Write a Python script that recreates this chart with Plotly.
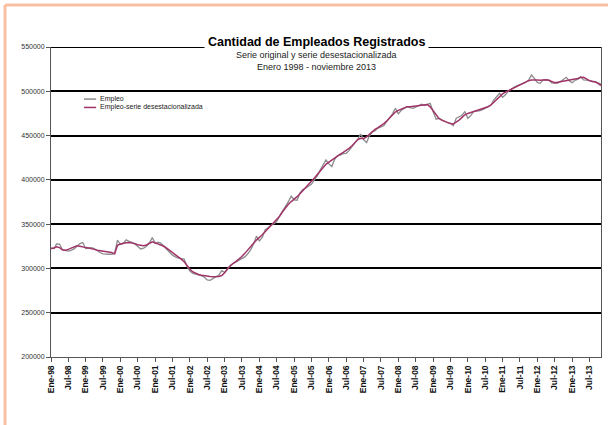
import pandas as pd
import plotly.graph_objects as go

# meses: enero 1998 - noviembre 2013
meses = pd.date_range("1998-01-01", periods=191, freq="MS")

# serie original (Empleo)
empleo = [
    322800, 322500, 327800, 327500, 321000, 319800, 319500, 320500, 322000, 325000, 328000, 329200,
    322500, 323000, 323500, 322500, 320000, 318000, 316500, 316000, 316000, 316000, 317000, 332000,
    327000, 328500, 332200, 330500, 329500, 327500, 324500, 322000, 323000, 325000, 329000, 334800,
    328500, 329500, 328500, 325000, 321500, 319000, 315000, 313000, 311500, 311000, 310500, 302500,
    297000, 294500, 293800, 293000, 291800, 290000, 287000, 286500, 288500, 290500, 292500, 297500,
    295500, 299000, 303500, 305500, 307500, 309000, 311500, 313000, 316500, 321000, 327500, 336500,
    331000, 335000, 343500, 346500, 348500, 350500, 353000, 359500, 365000, 369000, 375500, 381500,
    377500, 377000, 385000, 389000, 390500, 393000, 395000, 400000, 404500, 411000, 416500, 422500,
    418000, 415000, 423000, 427500, 428000, 429500, 430000, 433000, 437500, 441500, 446000, 451800,
    445500, 442000, 449500, 454000, 455500, 458500, 460000, 461000, 466000, 470000, 474500, 480800,
    474500, 478500, 480500, 482700, 481500, 480800, 482000, 483500, 485500, 484000, 485500, 486400,
    477000, 468500, 469500, 468000, 465700, 464500, 463800, 461200, 469500, 471000, 473000, 477000,
    469500, 472500, 477000, 477500, 477800, 479000, 480800, 482500, 484500, 490200, 493500, 497700,
    493200, 496000, 500000, 502500, 504500, 506000, 507100, 508500, 510000, 512500, 518400, 514600,
    510000, 509000, 512800, 512500, 512800, 509500, 509000, 509000, 511000, 513000, 515800, 512000,
    509700, 512500, 513500, 516500, 512800, 512500, 512000, 511500, 511000, 509500, 508200,
]

# serie desestacionalizada
empleo_desest = [
    322500, 323000, 324500, 323500, 321000, 320500, 321500, 323000, 324500, 325500, 325000, 324000,
    323500, 323000, 322500, 321500, 320500, 320000, 319800, 319500, 319000, 318000, 316500, 326000,
    327500, 328500, 329000, 329200, 328800, 328000, 326800, 325800, 325500, 326500, 328200, 330000,
    328800, 327500, 326800, 325000, 322800, 320500, 318000, 315500, 313000, 310500, 307500, 303000,
    299000, 296000, 294500, 293200, 292200, 291500, 291000, 290800, 290700, 290800, 291000, 292000,
    295000, 300000, 303000, 305800, 308000, 310500, 313500, 317000, 320500, 324500, 328500, 332000,
    334500, 338000, 341500, 345000, 348000, 351000, 354500, 359000, 364000, 368500, 372500, 375500,
    378000, 381000, 384000, 387500, 390500, 394000, 398000, 402000, 406000, 410000, 414000, 417500,
    420000, 422500, 424500, 427000, 429000, 431000, 433000, 435500, 438500, 442000, 445500, 447000,
    446500, 448500, 451500, 454500, 457000, 459000, 461000, 463500, 466500, 470000, 473500, 476500,
    478500, 480000, 481500, 482500, 482500, 483000, 483500, 484000, 484500, 484500, 485000, 482500,
    477500, 473000, 469500, 467500, 466000, 464500, 463500, 463000, 465000, 467500, 470500, 473500,
    475000, 476000, 477000, 478000, 479000, 480500, 481000, 482500, 484500, 487500, 491000, 494500,
    497000, 499000, 500500, 502500, 504500, 506000, 507500, 509000, 510500, 512000, 512800, 513000,
    512800, 512500, 513000, 513000, 512500, 511000, 509800, 510200, 510800, 511500, 512000, 512500,
    512500, 513500, 514500, 515500, 515800, 514000, 512000, 511000, 510500, 509000, 506500,
]

etiquetas = [
    "Ene-98", "Jul-98", "Ene-99", "Jul-99", "Ene-00", "Jul-00", "Ene-01", "Jul-01",
    "Ene-02", "Jul-02", "Ene-03", "Jul-03", "Ene-04", "Jul-04", "Ene-05", "Jul-05",
    "Ene-06", "Jul-06", "Ene-07", "Jul-07", "Ene-08", "Jul-08", "Ene-09", "Jul-09",
    "Ene-10", "Jul-10", "Ene-11", "Jul-11", "Ene-12", "Jul-12", "Ene-13", "Jul-13",
]

gris = "#8c8c8c"
morado = "#a03468"
fuente = "Liberation Sans, Arial, sans-serif"

fig = go.Figure()
fig.add_trace(go.Scatter(x=meses, y=empleo, mode="lines", name="Empleo",
                         line=dict(color=gris, width=1.3)))
fig.add_trace(go.Scatter(x=meses, y=empleo_desest, mode="lines",
                         name="Empleo-serie desestacionalizada",
                         line=dict(color=morado, width=1.5)))

fig.update_layout(
    template="none",
    width=608, height=425,
    margin=dict(l=51, r=7, t=47, b=68),
    paper_bgcolor="white", plot_bgcolor="white",
    showlegend=False,
    font=dict(family=fuente, color="#222"),
)
fig.update_xaxes(
    range=[meses[0], meses[-1]],
    tickvals=meses[::6], ticktext=["<b>" + t + "</b>" for t in etiquetas], tickangle=-90,
    tickfont=dict(size=8.5, family=fuente, color="#111"),
    showgrid=False, showline=True, linecolor="#555", linewidth=1,
    ticks="outside", ticklen=4, tickcolor="#555", automargin=False,
)
fig.update_yaxes(
    range=[200000, 550000], dtick=50000, tickformat="d",
    tickfont=dict(size=7, family=fuente, color="#333"),
    showgrid=True, gridcolor="black", gridwidth=2.2, zeroline=False,
    showline=True, linecolor="#555", linewidth=1, mirror=True,
    ticks="outside", ticklen=4, tickcolor="#555", automargin=False,
)

# linea superior (550000) y borde del grafico
fig.add_shape(type="line", xref="paper", yref="y", x0=0, x1=1, y0=550000, y1=550000,
              line=dict(color="black", width=2.2))
fig.add_shape(type="line", xref="paper", yref="paper", x0=-0.0836, x1=1.05, y0=1.1355, y1=1.1355,
              line=dict(color="#f9bfa2", width=3))
fig.add_shape(type="line", xref="paper", yref="paper", x0=-0.0836, x1=-0.0836, y0=1.1355, y1=-0.3,
              line=dict(color="#f9bfa2", width=3))

# titulos
fig.add_annotation(text="<b>Cantidad de Empleados Registrados</b>", xref="paper", yref="paper",
                   x=0.482, y=1.017, xanchor="center", yanchor="middle", showarrow=False,
                   font=dict(size=12.5, color="black"), bgcolor="white", borderpad=3)
fig.add_annotation(text="Serie original y serie desestacionalizada", xref="paper", yref="paper",
                   x=0.482, y=0.974, xanchor="center", yanchor="middle", showarrow=False,
                   font=dict(size=9, color="#222"))
fig.add_annotation(text="Enero 1998 - noviembre 2013", xref="paper", yref="paper",
                   x=0.482, y=0.936, xanchor="center", yanchor="middle", showarrow=False,
                   font=dict(size=9, color="#222"))

# leyenda
fig.add_shape(type="line", xref="paper", yref="paper", x0=0.06, x1=0.082, y0=0.832, y1=0.832,
              line=dict(color=gris, width=1.5))
fig.add_shape(type="line", xref="paper", yref="paper", x0=0.06, x1=0.082, y0=0.805, y1=0.805,
              line=dict(color=morado, width=1.5))
fig.add_annotation(text="Empleo", xref="paper", yref="paper", x=0.0855, y=0.832,
                   xanchor="left", yanchor="middle", showarrow=False, font=dict(size=7, color="#222"))
fig.add_annotation(text="Empleo-serie desestacionalizada", xref="paper", yref="paper", x=0.0855, y=0.805,
                   xanchor="left", yanchor="middle", showarrow=False, font=dict(size=7, color="#222"))

fig.write_html("out.html", config={"displayModeBar": False},
               post_script="document.body.style.margin='0';")
